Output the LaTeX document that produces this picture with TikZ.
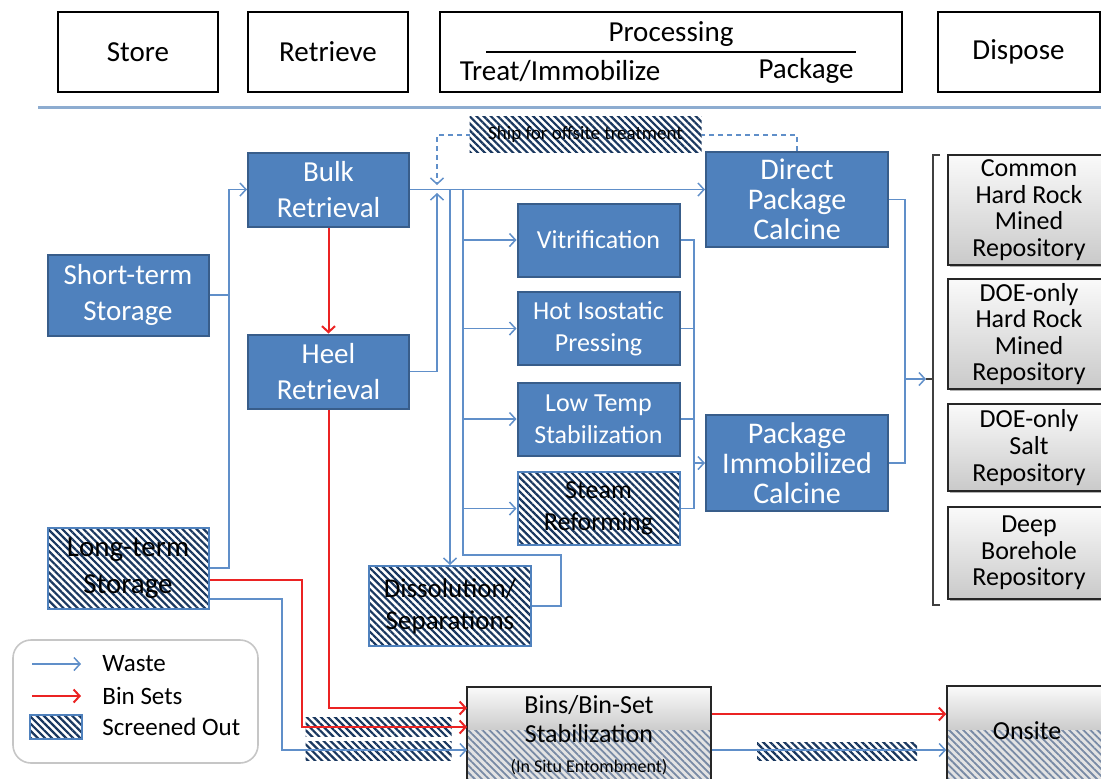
\documentclass[tikz,border=0pt]{standalone}
\usepackage{fontspec}
\setmainfont{Carlito}
\usetikzlibrary{positioning,calc,arrows.meta,patterns.meta,shadows}
\definecolor{boxblue}{RGB}{79,129,189}
\definecolor{boxedge}{RGB}{56,93,138}
\definecolor{wasteblue}{RGB}{96,143,201}
\definecolor{binred}{RGB}{235,35,35}
\definecolor{hatchnavy}{RGB}{25,55,95}
\definecolor{hatchfade}{RGB}{120,138,165}
\definecolor{sepblue}{RGB}{141,172,208}
\def\fsz#1#2{\fontsize{#1}{#2}\selectfont}
\tikzstyle{head} = [draw=black, line width=1pt, fill=white, minimum width=80pt, minimum height=40pt, font=\fsz{14.5}{17}]
\tikzstyle{stepbox} = [draw=boxedge, line width=1pt, fill=boxblue, text=white, align=center, inner sep=1pt, minimum width=80.5pt, minimum height=37pt, font=\fsz{14.5}{18}]
\tikzstyle{procbox} = [stepbox, minimum width=81pt, minimum height=36.5pt, font=\fsz{13}{16}]
\tikzstyle{screened} = [draw=boxblue, line width=1pt, preaction={fill=white}, pattern={Lines[angle=-45,distance=2.5pt,line width=1.1pt]}, pattern color=hatchnavy, text=black, align=center, inner sep=1pt]
\tikzstyle{repo} = [draw=black!85, line width=0.8pt, top color=gray!4, bottom color=gray!42, drop shadow={shadow xshift=0.8pt, shadow yshift=-0.8pt, opacity=0.3, fill=black}, align=center, inner sep=1pt, minimum width=81pt, font=\fsz{13}{13.3}]
\tikzstyle{waste} = [draw=wasteblue, line width=0.75pt]
\tikzstyle{binset} = [draw=binred, line width=1pt]
\begin{document}
\begin{tikzpicture}[x=0.5pt, y=-0.5pt, >={Straight Barb[length=3pt,width=6.5pt]}]
\useasboundingbox (0,0) rectangle (1101,778);
\clip (0,0) rectangle (1101,778);
% header row
\node[head] (store) at (138,52) {Store};
\node[head] (retrieve) at (328,52) {Retrieve};
\node[head, minimum width=231pt] (process) at (671,52) {};
\node[head, minimum width=81pt] (dispose) at (1018.5,52) {Dispose};
\node[font=\fsz{14.5}{17}] (proctitle) at (671,34) {Processing};
\node[font=\fsz{14.5}{17}] (treat) at (560,71) {Treat/Immobilize};
\node[font=\fsz{14.5}{17}] (pack) at (806,71) {Package};
\draw[line width=0.8pt] ($(process.west)+(47,0)$) -- ($(process.east)+(-47,0)$);
\draw[sepblue, line width=1.5pt] (38,107) -- (1101,107);
% store / retrieve
\node[stepbox, minimum height=40.5pt] (shortterm) at (128,295) {Short-term\\Storage};
\node[screened, minimum width=80.5pt, minimum height=40.5pt, font=\fsz{14.5}{18.5}] (longterm) at (128,568) {Long-term\\Storage};
\node[stepbox] (bulk) at (328.5,189.5) {Bulk\\Retrieval};
\node[stepbox] (heel) at (328.5,371.5) {Heel\\Retrieval};
% processing
\node[procbox] (vitr) at (598.5,240) {Vitrification};
\node[procbox] (hip) at (598.5,328.5) {Hot Isostatic\\Pressing};
\node[procbox] (lts) at (598.5,419) {Low Temp\\Stabilization};
\node[screened, minimum width=81pt, minimum height=36.5pt, font=\fsz{13}{16}] (steam) at (598.5,508.5) {Steam\\Reforming};
\node[screened, minimum width=81pt, minimum height=40pt, font=\fsz{13.5}{16}] (dissol) at (450,606) {Dissolution/\\Separations};
\node[stepbox, minimum width=91pt, minimum height=47.5pt, font=\fsz{15}{15}] (dpc) at (797,199.5) {Direct\\Package\\Calcine};
\node[stepbox, minimum width=91pt, minimum height=48pt, font=\fsz{15}{15}] (pic) at (797,463) {Package\\Immobilized\\Calcine};
% disposal
\node[repo, minimum height=55pt] (common) at (1029,210) {Common\\Hard Rock\\Mined\\Repository};
\node[repo, minimum height=55pt] (doehard) at (1029,334) {DOE-only\\Hard Rock\\Mined\\Repository};
\node[repo, minimum height=43.5pt] (doesalt) at (1029,447.5) {DOE-only\\Salt\\Repository};
\node[repo, minimum height=46pt] (borehole) at (1029,553) {Deep\\Borehole\\Repository};
\coordinate (brace) at (926,379);
\draw[black!75, line width=0.8pt] (940,155) -- (933,155) -- (933,605) -- (940,605);
\draw[black!75, line width=0.8pt] (933,379) -- (brace);
% in situ / onsite
\shade[top color=gray!4, bottom color=gray!40] (467,687) rectangle (711,730);
\fill[gray!22] (467,730) rectangle (711,800);
\fill[pattern={Lines[angle=-45,distance=2.5pt,line width=0.9pt]}, pattern color=hatchfade] (467,730) rectangle (711,800);
\node[draw=black!85, line width=0.8pt, minimum width=122pt, minimum height=56.5pt] (bins) at (589,743.5) {};
\node[font=\fsz{13}{14.5}, align=center] (binstext) at (589,719) {Bins/Bin-Set\\Stabilization};
\node[font=\fsz{9}{10}] (binsnote) at (589,767) {(In Situ Entombment)};
\shade[top color=gray!4, bottom color=gray!40] (947,686) rectangle (1110,730);
\fill[gray!22] (947,730) rectangle (1110,800);
\fill[pattern={Lines[angle=-45,distance=2.5pt,line width=0.9pt]}, pattern color=hatchfade] (947,730) rectangle (1110,800);
\node[draw=black!85, line width=0.8pt, minimum width=81.5pt, minimum height=57pt] (onsite) at (1028.5,743) {};
\node[font=\fsz{13}{14.5}] (onsitetext) at (1027,731) {Onsite};
\node[screened, draw=none, minimum width=73pt, minimum height=9.5pt, inner sep=0pt] (barA) at (378.5,726.5) {};
\node[screened, draw=none, minimum width=73pt, minimum height=9.5pt, inner sep=0pt] (barB) at (378.5,750.5) {};
\node[screened, draw=none, minimum width=80pt, minimum height=9pt, inner sep=0pt] (barC) at (837,751) {};
% connectors
\coordinate (storejoin) at (229,295);
\draw[waste] (shortterm.east) -- (storejoin);
\draw[waste] (longterm.east) -| (storejoin);
\draw[waste,->] (storejoin) |- (bulk.west);
\draw[binset,->] (bulk.south) -- (heel.north);
\coordinate (inA) at (467,708);
\coordinate (inB) at (467,727);
\coordinate (inC) at (467,750);
\draw[binset,->] (heel.south) |- (inA);
\draw[binset,->] ($(longterm.east)+(0,12)$) -| (302,727) -- (inB);
\draw[waste,->] ($(longterm.east)+(0,31)$) -| (282,750) -- (inC);
\coordinate (toonsite) at (0,714);
\coordinate (tobase) at (0,750);
\draw[binset,->] (bins.east |- toonsite) -- (onsite.west |- toonsite);
\draw[waste,->] (bins.east |- tobase) -- (onsite.west |- tobase);
\coordinate (hub) at (437,189);
\coordinate (trunk) at (463,189);
\draw[waste,->] (bulk.east) -- (dpc.west |- bulk.east);
\draw[waste,->] (heel.east) -| ($(hub)+(0,4)$);
\draw[waste,dash pattern=on 2.5pt off 2pt,->] (dpc.north) |- ($(hub)+(0,-54)$) -- ($(hub)+(0,-4)$);
\draw[waste,->] (dissol.north |- trunk) -- (dissol.north);
\draw[waste] (dissol.east) -| (561,555) -| (trunk);
\foreach \p in {vitr,hip,lts,steam} \draw[waste,->] (trunk |- \p.west) -- (\p.west);
\coordinate (procjoin) at (694,463);
\foreach \p in {vitr,hip,lts,steam} \draw[waste] (\p.east) -| (procjoin);
\draw[waste,->] (procjoin) -- (pic.west);
\coordinate (pkgjoin) at (905,379);
\draw[waste] (dpc.east) -| (pkgjoin);
\draw[waste] (pic.east) -| (pkgjoin);
\draw[waste,->] (pkgjoin) -- (brace);
\node[screened, draw=none, minimum width=116pt, minimum height=18pt, font=\fsz{9.5}{11}] (ship) at (585.5,134) {Ship for offsite treatment};
% legend
\node[draw=gray!45, line width=0.8pt, rounded corners=9pt, minimum width=122.5pt, minimum height=61.5pt] (legend) at (135.5,701.5) {};
\node[font=\fsz{12.5}{14}, anchor=west, inner sep=1pt] (lgwaste) at (100,664) {Waste};
\node[font=\fsz{12.5}{14}, anchor=west, inner sep=1pt] (lgbin) at (100,696) {Bin Sets};
\node[font=\fsz{12.5}{14}, anchor=west, inner sep=1pt] (lgout) at (100,727) {Screened Out};
\draw[waste,->] ($(lgwaste.west)+(-68,0)$) -- ($(lgwaste.west)+(-19,0)$);
\draw[binset,->] ($(lgbin.west)+(-68,0)$) -- ($(lgbin.west)+(-19,0)$);
\node[screened, minimum width=26pt, minimum height=12pt] (lgbox) at (56,727) {};
\end{tikzpicture}
\end{document}
